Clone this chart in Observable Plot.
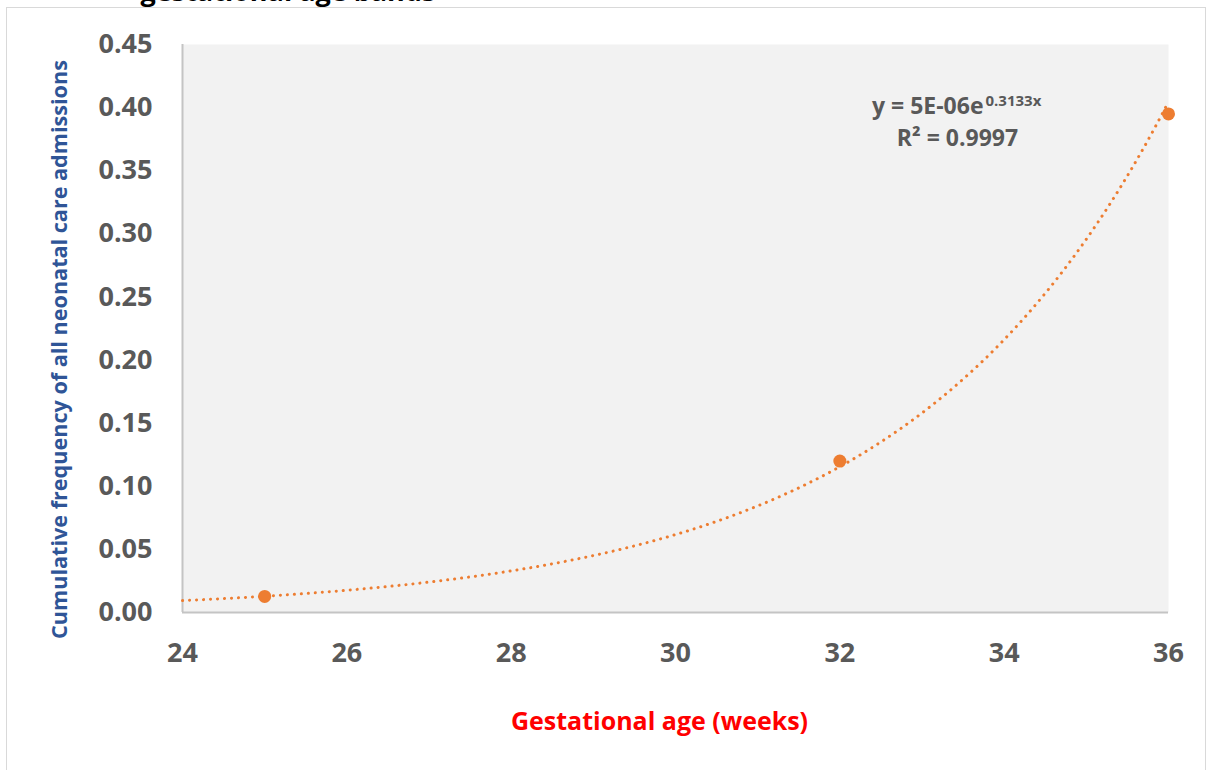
<!DOCTYPE html>
<html><head><meta charset="utf-8">
<script src="https://cdn.jsdelivr.net/npm/d3@7"></script>
<script src="https://cdn.jsdelivr.net/npm/@observablehq/plot@0.6"></script>
<style>
body{margin:0;background:#fff;}
#wrap{position:relative;width:1210px;height:770px;overflow:hidden;font-family:"Open Sans",sans-serif;background:#fff;}
#border{position:absolute;left:6px;top:7px;width:1200px;height:800px;border:1px solid #D9D9D9;box-sizing:border-box;pointer-events:none;}
#wrap svg{position:absolute;left:0;top:0;}
</style>
</head><body>
<div id="wrap"></div>
<script>
// data
const weeks = [25, 32, 36];
const freq = [0.0127, 0.120, 0.395];
const xTicks = [24, 26, 28, 30, 32, 34, 36];
const yTicks = [0, 0.05, 0.10, 0.15, 0.20, 0.25, 0.30, 0.35, 0.40, 0.45];
const xDomain = [24, 36];
const yDomain = [0, 0.45];
const equationText = ["y = 5E-06e"];
const equationExp = ["0.3133x"];
const r2Text = ["R² = 0.9997"];
const xTitle = ["Gestational age (weeks)"];
const yTitle = ["Cumulative frequency of all neonatal care admissions"];
const chartTitle = ["gestational age bands"];

const points = weeks.map((w, i) => ({week: w, freq: freq[i]}));

// exponential least-squares trendline (fit on ln y), as the spreadsheet does
const lnY = freq.map(Math.log);
const mx = d3.mean(weeks), my = d3.mean(lnY);
const b = d3.sum(weeks, (x, i) => (x - mx) * (lnY[i] - my)) / d3.sum(weeks, x => (x - mx) ** 2);
const a = Math.exp(my - b * mx);
const trend = d3.range(xDomain[0], xDomain[1] + 1e-9, 0.05).map(x => ({week: x, freq: a * Math.exp(b * x)}));

const grey = "#595959";
const plot = Plot.plot({
  width: 1210, height: 770,
  marginLeft: 182, marginRight: 42, marginTop: 44, marginBottom: 158,
  style: {fontFamily: '"Open Sans", sans-serif', background: "transparent"},
  x: {domain: xDomain},
  y: {domain: yDomain},
  marks: [
    Plot.frame({fill: "#F2F2F2", stroke: null}),
    Plot.ruleY([0], {stroke: "#C4C4C4", strokeWidth: 2}),
    Plot.ruleX([24], {stroke: "#C4C4C4", strokeWidth: 2}),
    Plot.axisX({ticks: xTicks, tickSize: 0, tickPadding: 30, fontSize: 27, fontWeight: "bold", color: grey, label: null}),
    Plot.axisY({ticks: yTicks, tickFormat: d3.format(".2f"), tickSize: 0, tickPadding: 30, fontSize: 27, fontWeight: "bold", color: grey, label: null}),
    Plot.line(trend, {x: "week", y: "freq", stroke: "#ED7D31", strokeWidth: 3, strokeDasharray: "0.1,6.9", strokeLinecap: "round"}),
    Plot.dot(points, {x: "week", y: "freq", r: 6.5, fill: "#ED7D31", stroke: null}),
    Plot.text(equationText, {text: d => d, frameAnchor: "top-left", dx: 801, dy: 69, textAnchor: "end", lineAnchor: "bottom", fontSize: 23, fontWeight: "bold", fill: grey}),
    Plot.text(equationExp, {text: d => d, frameAnchor: "top-left", dx: 803, dy: 61, textAnchor: "start", lineAnchor: "bottom", fontSize: 15, fontWeight: "bold", fill: grey}),
    Plot.text(r2Text, {text: d => d, frameAnchor: "top-left", dx: 775, dy: 101, textAnchor: "middle", lineAnchor: "bottom", fontSize: 23, fontWeight: "bold", fill: grey}),
    Plot.text(xTitle, {text: d => d, frameAnchor: "bottom", dx: -16, dy: 117, lineAnchor: "bottom", fontSize: 25, fontWeight: "bold", fill: "#FF0000"}),
    Plot.text(yTitle, {text: d => d, frameAnchor: "left", textAnchor: "middle", rotate: -90, dx: -122, dy: 21, fontSize: 21.6, fontWeight: "bold", fill: "#2F5597"}),
    Plot.text(chartTitle, {text: d => d, frameAnchor: "top-left", dx: -42, dy: -44, textAnchor: "start", lineAnchor: "bottom", fontSize: 27, fontWeight: "bold", fill: "#000"})
  ]
});
const wrap = document.getElementById("wrap");
wrap.appendChild(plot);
const border = document.createElement("div");
border.id = "border";
wrap.appendChild(border);
</script>
</body></html>
